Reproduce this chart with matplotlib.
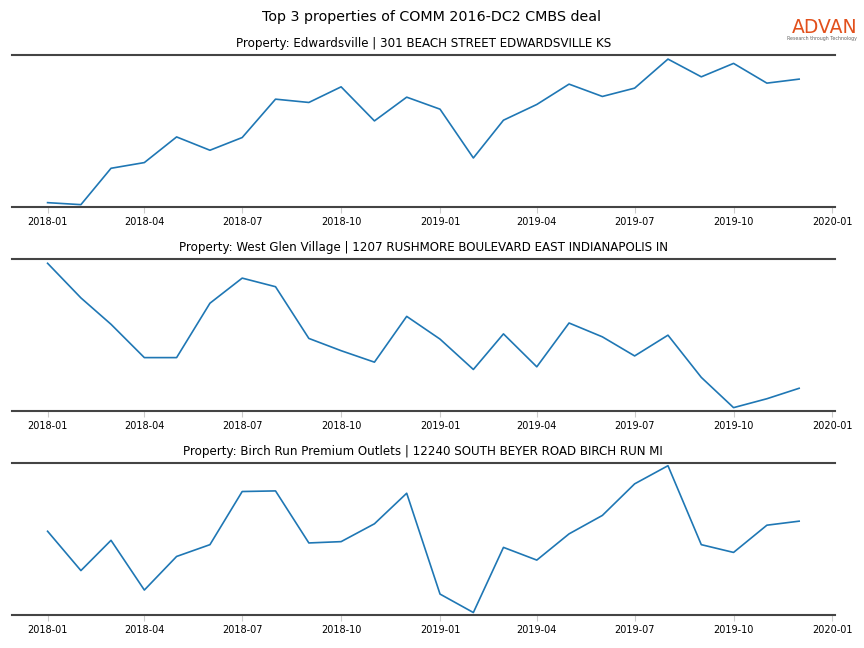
import matplotlib
matplotlib.use("Agg")
import matplotlib.pyplot as plt
import matplotlib.dates as mdates
import pandas as pd

# meses del periodo
meses = pd.date_range("2018-01-01", periods=24, freq="MS")

# valores (escala relativa)
edwardsville = [4.4, 2.4, 38.7, 44.4, 70, 56.7, 69.4, 107.7, 104.4, 120, 86, 109.7,
                97.7, 49, 86.7, 102.4, 122.7, 110.4, 118.7, 147.7, 130, 143.4, 123.7, 127.7]
west_glen = [149.4, 114.4, 87.7, 54, 54, 109, 134.4, 125.7, 73.4, 61, 49.4, 95.7,
             72.7, 42, 78, 44.7, 89, 75, 55.7, 76.7, 34, 3.4, 12.4, 23]
birch_run = [83, 44, 74, 24.7, 58, 69.7, 122.4, 123, 71.4, 72.7, 90.4, 120.7,
             20.7, 2.4, 67, 54.4, 80.4, 98.7, 130, 148, 69.7, 62, 89, 93]

titulos = [
    "Property: Edwardsville | 301 BEACH STREET EDWARDSVILLE KS",
    "Property: West Glen Village | 1207 RUSHMORE BOULEVARD EAST INDIANAPOLIS IN",
    "Property: Birch Run Premium Outlets | 12240 SOUTH BEYER ROAD BIRCH RUN MI",
]
series = [edwardsville, west_glen, birch_run]
topes = [151.7, 153.7, 150.7]

fig, axes = plt.subplots(3, 1, figsize=(8.64, 6.48), dpi=100)
fig.subplots_adjust(left=0.014, right=0.966, top=0.915, bottom=0.051, hspace=0.342)

for ax, valores, titulo, tope in zip(axes, series, titulos, topes):
    ax.plot(meses, valores, color="#1f77b4", linewidth=1.2)
    ax.set_ylim(0, tope)
    ax.set_xlim(meses[0] - pd.Timedelta(days=33), meses[-1] + pd.Timedelta(days=33))
    ax.set_title(titulo, fontsize=8.6, pad=6)
    ax.xaxis.set_major_locator(mdates.MonthLocator(bymonth=[1, 4, 7, 10]))
    ax.xaxis.set_major_formatter(mdates.DateFormatter("%Y-%m"))
    ax.tick_params(axis="x", labelsize=7, color="#cccccc", length=4, pad=3)
    ax.set_yticks([])
    for lado in ["left", "right"]:
        ax.spines[lado].set_visible(False)
    for lado in ["top", "bottom"]:
        ax.spines[lado].set_color("#444444")
        ax.spines[lado].set_linewidth(1.5)

fig.suptitle("Top 3 properties of COMM 2016-DC2 CMBS deal", fontsize=10.3, y=0.985)

# logo
fig.text(0.992, 0.958, "ADVAN", color="#e2501c", fontsize=13.5, ha="right", va="center")
fig.text(0.992, 0.940, "Research through Technology", color="#666666", fontsize=3.4, ha="right", va="center")

plt.savefig("out.png")
